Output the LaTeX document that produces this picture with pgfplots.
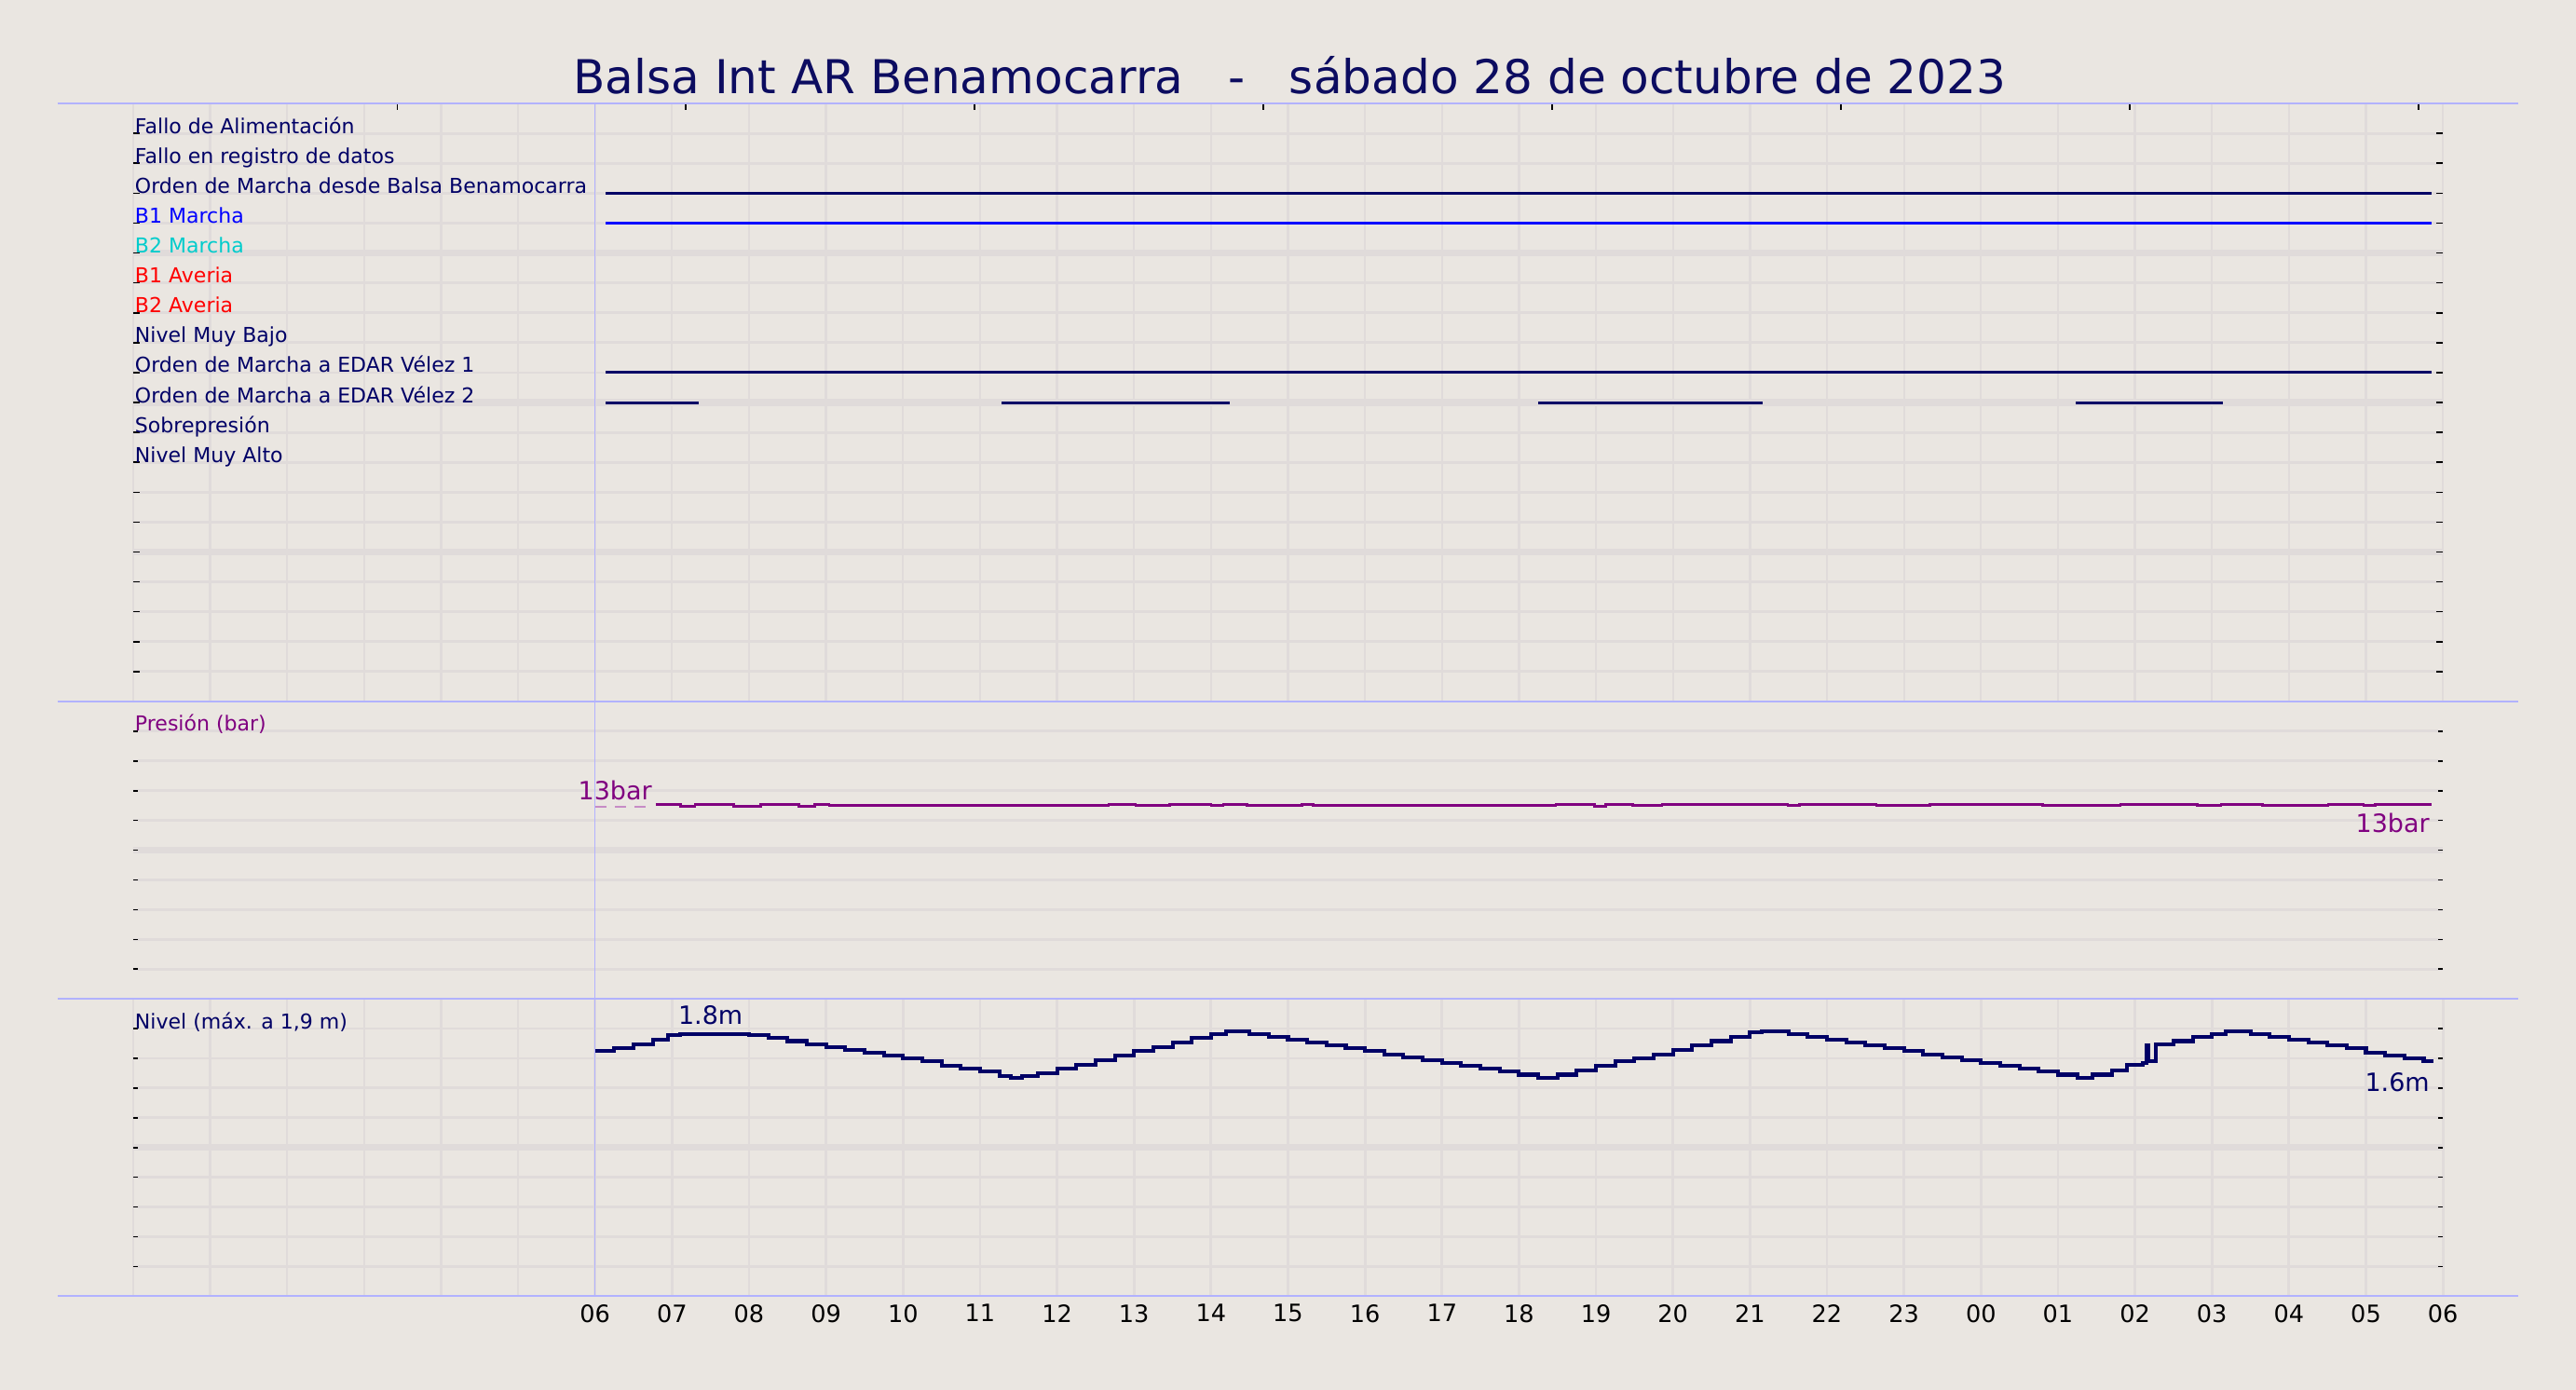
\documentclass[border=0pt]{standalone}
\usepackage{fontspec}
\setmainfont{DejaVu Sans}
\usepackage{pgfplots}
\pgfplotsset{compat=1.18}
\definecolor{bg}{RGB}{234,230,225}
\definecolor{gridc}{RGB}{224,219,218}
\definecolor{sepblue}{RGB}{178,178,255}
\definecolor{navy}{RGB}{0,0,102}
\definecolor{titlec}{RGB}{12,12,96}
\definecolor{cyanm}{RGB}{0,204,204}
\definecolor{purp}{RGB}{128,0,128}
\newcommand{\lab}{\fontsize{12.5}{14}\selectfont}
\newcommand{\val}{\fontsize{15.3}{18}\selectfont}

\pgfplotsset{
  panel/.style={
    scale only axis, width=1406pt, xmin=0, xmax=30,
    anchor=south west, clip=false,
    axis line style={draw=none},
    tick align=inside, ytick pos=both,
    major tick length=3pt,
    ytick style={black, line width=0.9pt},
    yticklabels={}, extra y tick labels={},
    minor xtick={0,...,30}, xminorgrids=true,
    minor tick length=0pt,
    minor grid style={gridc, line width=1.3pt},
    ymajorgrids=true,
    major grid style={gridc, line width=1.6pt},
    extra y tick style={major grid style={gridc, line width=4pt}},
  },
}

\begin{document}
\begin{tikzpicture}
\useasboundingbox (0,0) rectangle (1568pt,846pt);
\fill[bg] (0,0) rectangle (1568pt,846pt);

% señales digitales
\begin{axis}[panel, at={(81pt,419pt)}, height=364pt, ymin=0, ymax=20,
  ytick={1,...,19}, extra y ticks={5,10,15},
  xtick={3.43,7.18,10.93,14.68,18.43,22.18,25.93,29.68}, xticklabels={},
  xtick pos=right, major tick length=4pt,
  xtick style={draw=black, line width=0.9pt},
  unbounded coords=jump]
  \addplot[navy, line width=1.7pt] coordinates {(6.14,17)(29.85,17)};
  \addplot[blue, line width=1.7pt] coordinates {(6.14,16)(29.85,16)};
  \addplot[navy, line width=1.7pt] coordinates {(6.14,11)(29.85,11)};
  \addplot[navy, line width=1.7pt] coordinates {
    (6.14,10)(7.35,10)(7.35,nan)
    (11.28,10)(14.24,10)(14.24,nan)
    (18.25,10)(21.16,10)(21.16,nan)
    (25.23,10)(27.14,10)};
  \begin{scope}[every node/.style={anchor=base west, inner sep=0pt, xshift=1pt, font=\lab}]
  \node[navy]  at (axis cs:0,19) {Fallo de Alimentación};
  \node[navy]  at (axis cs:0,18) {Fallo en registro de datos};
  \node[navy]  at (axis cs:0,17) {Orden de Marcha desde Balsa Benamocarra};
  \node[blue]  at (axis cs:0,16) {B1 Marcha};
  \node[cyanm] at (axis cs:0,15) {B2 Marcha};
  \node[red]   at (axis cs:0,14) {B1 Averia};
  \node[red]   at (axis cs:0,13) {B2 Averia};
  \node[navy]  at (axis cs:0,12) {Nivel Muy Bajo};
  \node[navy]  at (axis cs:0,11) {Orden de Marcha a EDAR Vélez 1};
  \node[navy]  at (axis cs:0,10) {Orden de Marcha a EDAR Vélez 2};
  \node[navy]  at (axis cs:0,9)  {Sobrepresión};
  \node[navy]  at (axis cs:0,8)  {Nivel Muy Alto};
  \end{scope}
\end{axis}

% presión
\begin{axis}[panel, at={(81pt,238pt)}, height=181pt, ymin=0, ymax=20,
  ytick={2,4,...,18}, extra y ticks={10}, xtick=\empty]
  \addplot[purp!45, line width=1pt, dashed, dash pattern=on 7pt off 5pt]
    coordinates {(6.0,12.9)(6.72,12.9)};
  \addplot[purp, line width=1.5pt, const plot] coordinates {
    (6.79,13.06)(7.11,12.95)(7.30,13.06)(7.80,12.95)(8.15,13.06)(8.65,12.95)
    (8.85,13.06)(9.04,13.0)(12.67,13.06)(13.02,13.0)(13.46,13.06)(14.0,13.0)
    (14.16,13.06)(14.47,13.0)(15.18,13.06)(15.33,13.0)(18.48,13.06)(18.98,12.95)
    (19.13,13.06)(19.48,13.0)(19.86,13.06)(21.49,13.0)(21.64,13.06)(22.64,13.0)
    (23.34,13.06)(24.80,13.0)(25.81,13.06)(26.81,13.0)(27.12,13.06)(27.66,13.0)
    (28.51,13.06)(28.97,13.0)(29.12,13.06)(29.85,13.06)};
  \node[purp, anchor=base west, inner sep=0pt, xshift=1pt, font=\lab]
    at (axis cs:0,18) {Presión (bar)};
  \node[purp, anchor=base, inner sep=0pt, yshift=3.5pt, font=\val]
    at (axis cs:6.26,13) {13bar};
  \node[purp, anchor=north east, inner sep=0pt, yshift=-4.5pt, font=\val]
    at (axis cs:29.83,13) {13bar};
\end{axis}

% nivel
\begin{axis}[panel, at={(81pt,57pt)}, height=181pt, ymin=0, ymax=2.04,
  ytick={0.204,0.408,0.612,0.816,1.02,1.224,1.428,1.632,1.836},
  extra y ticks={1.02},
  xtick={6,...,30}, xmajorgrids=true, xtick style={draw=none},
  xticklabels={06,07,08,09,10,11,12,13,14,15,16,17,18,19,20,21,22,23,00,01,02,03,04,05,06},
  xticklabel style={black, font=\fontsize{14.5}{17}\selectfont, yshift=-1.5pt}]
  \addplot[navy, line width=2.3pt, const plot] coordinates {
    (6.0,1.68)(6.25,1.70)(6.5,1.73)(6.75,1.76)(6.95,1.79)(7.1,1.80)
    (7.75,1.80)(8.0,1.79)(8.25,1.77)(8.5,1.75)(8.75,1.73)(9.0,1.71)
    (9.25,1.69)(9.5,1.67)(9.75,1.65)(10.0,1.63)(10.25,1.61)(10.5,1.58)
    (10.75,1.56)(11.0,1.54)(11.25,1.51)(11.4,1.50)(11.55,1.51)(11.75,1.53)
    (12.0,1.56)(12.25,1.59)(12.5,1.62)(12.75,1.65)(13.0,1.68)(13.25,1.71)
    (13.5,1.74)(13.75,1.77)(14.0,1.80)(14.2,1.82)(14.5,1.80)(14.75,1.78)
    (15.0,1.76)(15.25,1.74)(15.5,1.72)(15.75,1.70)(16.0,1.68)(16.25,1.66)
    (16.5,1.64)(16.75,1.62)(17.0,1.60)(17.25,1.58)(17.5,1.56)(17.75,1.54)
    (18.0,1.52)(18.25,1.50)(18.5,1.52)(18.75,1.55)(19.0,1.58)(19.25,1.61)
    (19.5,1.63)(19.75,1.66)(20.0,1.69)(20.25,1.72)(20.5,1.75)(20.75,1.78)
    (21.0,1.81)(21.15,1.82)(21.5,1.80)(21.75,1.78)(22.0,1.76)(22.25,1.74)
    (22.5,1.72)(22.75,1.70)(23.0,1.68)(23.25,1.66)(23.5,1.64)(23.75,1.62)
    (24.0,1.60)(24.25,1.58)(24.5,1.56)(24.75,1.54)(25.0,1.52)(25.25,1.50)
    (25.45,1.52)(25.7,1.55)(25.9,1.59)(26.1,1.60)(26.15,1.72)(26.17,1.61)
    (26.27,1.73)(26.5,1.75)(26.75,1.78)(27.0,1.80)(27.18,1.82)(27.5,1.80)
    (27.75,1.78)(28.0,1.76)(28.25,1.74)(28.5,1.72)(28.75,1.70)(29.0,1.67)
    (29.25,1.65)(29.5,1.63)(29.75,1.61)(29.85,1.60)};
  \node[navy, anchor=base west, inner sep=0pt, xshift=1pt, font=\lab]
    at (axis cs:0,1.836) {Nivel (máx. a 1,9 m)};
  \node[navy, anchor=base, inner sep=0pt, yshift=5.5pt, font=\val]
    at (axis cs:7.5,1.8) {1.8m};
  \node[navy, anchor=north east, inner sep=0pt, yshift=-5.5pt, font=\val]
    at (axis cs:29.83,1.60) {1.6m};
\end{axis}

% separadores
\foreach \yy in {783,419,238,57}
  \draw[sepblue, line width=1pt] (35pt,\yy pt) -- (1533pt,\yy pt);
\draw[sepblue, line width=0.8pt] (362.2pt,57pt) -- (362.2pt,783pt);

\node[titlec, font=\fontsize{28.4}{34}\selectfont] at (785pt,800pt)
  {Balsa Int AR Benamocarra\ \ \ -\ \ \ sábado 28 de octubre de 2023};
\end{tikzpicture}
\end{document}
